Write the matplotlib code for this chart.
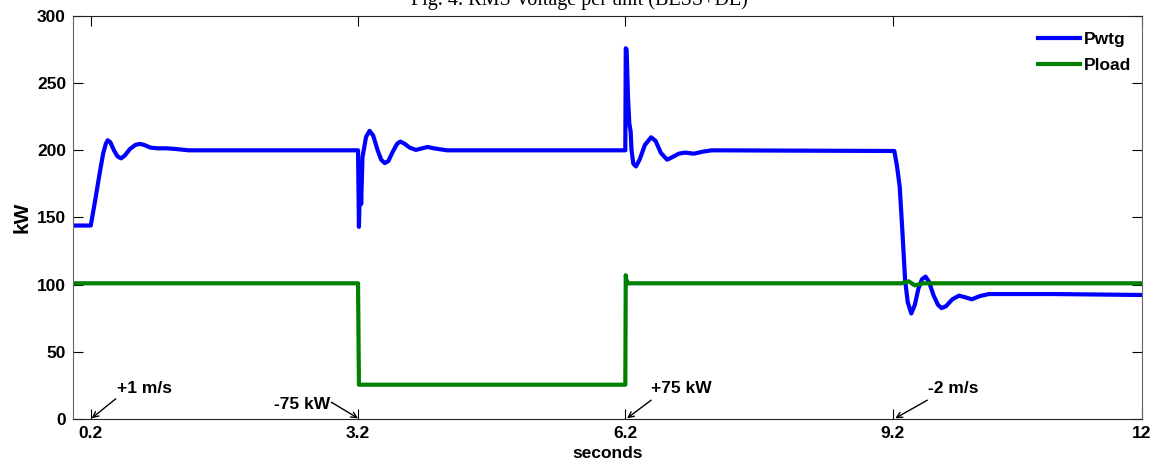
import matplotlib
matplotlib.use("Agg")
import matplotlib.pyplot as plt

# --- data ---
t_wtg = [0, 0.2, 0.25, 0.3, 0.34, 0.37, 0.39, 0.42, 0.46, 0.5, 0.54, 0.58, 0.64, 0.7, 0.75,
         0.8, 0.87, 0.95, 1.05, 1.15, 1.3, 3.2, 3.21, 3.225, 3.235, 3.25, 3.29, 3.33, 3.37,
         3.42, 3.46, 3.5, 3.54, 3.59, 3.64, 3.675, 3.72, 3.78, 3.85, 3.92, 3.98, 4.05, 4.2,
         6.2, 6.205, 6.215, 6.23, 6.245, 6.26, 6.27, 6.29, 6.32, 6.36, 6.42, 6.49, 6.54, 6.6,
         6.67, 6.73, 6.8, 6.87, 6.97, 7.07, 7.17, 9.22, 9.25, 9.28, 9.31, 9.34, 9.37, 9.41,
         9.45, 9.49, 9.53, 9.57, 9.61, 9.66, 9.71, 9.75, 9.8, 9.87, 9.945, 10.02, 10.09,
         10.18, 10.28, 11.0, 12]
p_wtg = [144, 144, 163, 183, 198, 205, 207.5, 206, 200, 195.5, 194, 196, 201, 204, 204.8,
         204, 202, 201.5, 201.5, 201, 200, 200, 143, 185, 160, 195, 210, 214.5, 211,
         200, 193, 190.5, 192, 199, 205, 206.5, 205, 202, 200.3, 201.5, 202.5, 201.5, 200,
         200, 276, 275, 240, 220, 214, 200, 190, 188, 193, 204, 209.7, 207, 198,
         193, 195, 197.5, 198.3, 197.5, 199, 200, 199.5, 188, 173, 140, 104, 87, 78.5,
         85, 97, 104, 106, 102, 92, 85, 82.5, 84, 89, 91.8, 90.5, 89.1,
         91.5, 93, 93, 92.3]

t_load = [0, 3.2, 3.21, 6.2, 6.205, 6.21, 6.23, 9.3, 9.38, 9.45, 9.55, 12]
p_load = [101, 101, 25.5, 25.5, 107, 104, 101, 101, 102.5, 99.5, 101, 101]

x_ticks = [0.2, 3.2, 6.2, 9.2, 12]
x_ticklabels = ["0.2", "3.2", "6.2", "9.2", "12"]
y_ticks = [0, 50, 100, 150, 200, 250, 300]

# event labels: text anchor, arrow tail, arrow head (seconds, kW)
events = ["+1 m/s", "-75 kW", "+75 kW", "-2 m/s"]
event_text = [(0.50, 23, 'left'), (2.89, 11, 'right'), (6.49, 23, 'left'), (9.6, 23, 'left')]
event_tail = [(0.48, 15), (2.90, 12.5), (6.49, 14), (9.59, 14)]
event_head = [(0.21, 0.5), (3.2, 0.5), (6.22, 0.5), (9.23, 0.5)]

plt.rcParams['font.family'] = ['Liberation Sans', 'DejaVu Sans']
plt.rcParams['font.weight'] = 'bold'

fig = plt.figure(figsize=(11.58, 4.65), dpi=100)
ax = fig.add_axes([0.063, 0.099, 0.9232, 0.8666])

ax.plot(t_wtg, p_wtg, color='#0000ff', linewidth=3.0, label='Pwtg')
ax.plot(t_load, p_load, color='#008000', linewidth=3.0, label='Pload')

ax.set_xlim(0, 12)
ax.set_ylim(0, 300)
ax.set_xticks(x_ticks)
ax.set_xticklabels(x_ticklabels)
ax.set_yticks(y_ticks)
ax.tick_params(direction='in', length=7, width=0.8, top=True, right=True,
               labelsize=12.5, pad=5)
for lab in ax.get_xticklabels() + ax.get_yticklabels():
    lab.set_fontweight('bold')
for s in ['left', 'right']:
    ax.spines[s].set_color('#666666')
for s in ['top', 'bottom']:
    ax.spines[s].set_color('#222222')

ax.set_xlabel('seconds', fontsize=12.5, fontweight='bold', labelpad=4)
ax.set_ylabel('kW', fontsize=15, fontweight='bold', labelpad=4)

for txt, (tx, ty, ha), tail, head in zip(events, event_text, event_tail, event_head):
    ax.text(tx, ty, txt, fontsize=12.5, fontweight='bold', ha=ha, va='center')
    ax.annotate('', xy=head, xytext=tail,
                arrowprops=dict(arrowstyle='->', color='black', lw=1.0,
                                shrinkA=0, shrinkB=0))

leg = ax.legend(loc='upper right', bbox_to_anchor=(0.996, 0.977), frameon=False,
                fontsize=12.5, handlelength=2.4, handletextpad=0.2, labelspacing=0.6,
                borderaxespad=0)
for t in leg.get_texts():
    t.set_fontweight('bold')

fig.text(0.5, 1 - 5 / 465, 'Fig. 4. RMS Voltage per unit (BESS+DE)', ha='center',
         va='baseline', fontsize=14.5, family='Liberation Serif', fontweight='normal')

fig.savefig('out.png', dpi=100)
